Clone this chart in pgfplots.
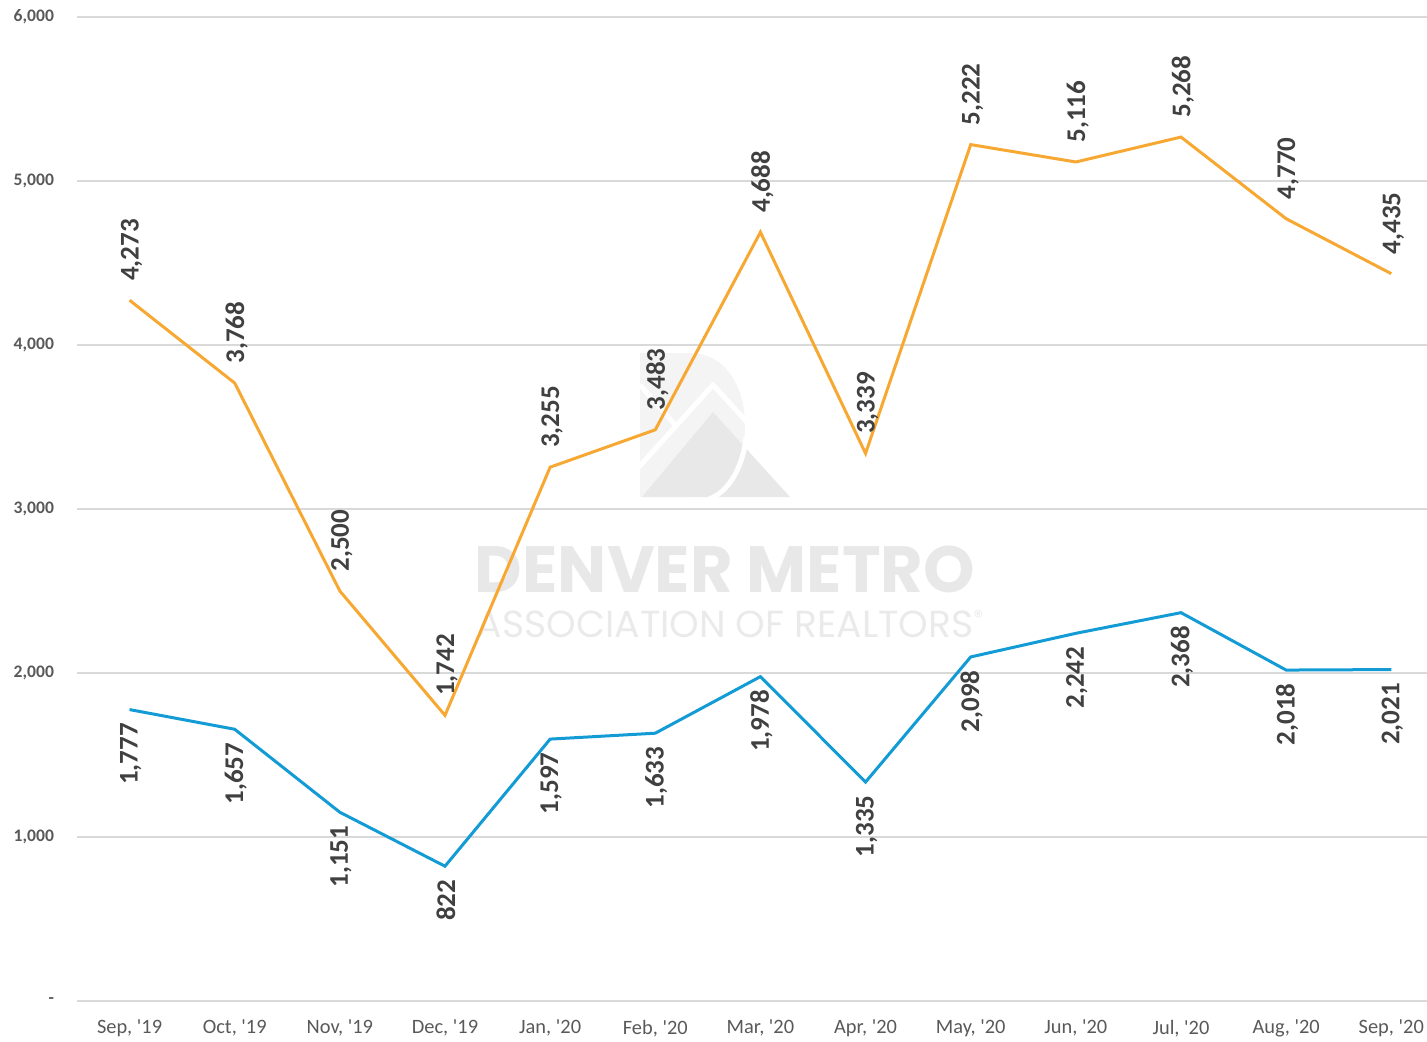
\documentclass[border=0pt]{standalone}
\usepackage{fontspec}
\setmainfont{Carlito}
\newfontfamily\wmfont{Poppins}
\usepackage{graphicx}
\usepackage{pgfplots}
\pgfplotsset{compat=1.18}
\definecolor{lineorange}{HTML}{F7A833}
\definecolor{lineblue}{HTML}{139BD5}
\definecolor{lbl}{HTML}{404040}
\definecolor{tick}{HTML}{595959}
\definecolor{gridc}{HTML}{D9D9D9}
\definecolor{wm}{HTML}{E8E8E8}
\definecolor{wmlight}{HTML}{F4F4F4}
\newcommand{\q}{\textquotesingle}
\begin{document}
\begin{tikzpicture}
% watermark (pixel -> pt: x=(px-77)/2, y=(1001-py)/2)
\begin{scope}[x=1pt,y=1pt]
\fill[wmlight] (281.5,252) -- (281.5,324) -- (306.5,324) .. controls (325,324) and (334,306) .. (334,288) .. controls (334,268) and (325,252) .. (306.5,252) -- cycle;
\fill[wm] (282.5,252) -- (318,294.5) -- (356.5,252) -- cycle;
\draw[white, line width=2.5pt] (280,266) -- (318,308) -- (340,284);
\draw[white, line width=2.5pt] (281.5,308) -- (300,287);
\draw[white, line width=2.5pt] (334.5,282) .. controls (333,266) and (325,254) .. (316,251);
\node[text=wm, inner sep=0] at (324,216) {\resizebox{250pt}{!}{\wmfont\bfseries DENVER METRO}};
\node[text=wm!90, inner sep=0] at (327,188.5) {\resizebox{254pt}{!}{\wmfont ASSOCIATION OF REALTORS\textsuperscript{\tiny®}}};
\end{scope}
\begin{axis}[
  scale only axis,
  width=675pt, height=492pt,
  xmin=-0.5, xmax=12.34,
  ymin=0, ymax=6000,
  axis line style={draw=none},
  axis x line*=bottom,
  axis y line*=left,
  xtick={0,...,12},
  xticklabels={{Sep, \q19},{Oct, \q19},{Nov, \q19},{Dec, \q19},{Jan, \q20},{Feb, \q20},{Mar, \q20},{Apr, \q20},{May, \q20},{Jun, \q20},{Jul, \q20},{Aug, \q20},{Sep, \q20}},
  ytick={0,1000,...,6000},
  yticklabels={-,{1,000},{2,000},{3,000},{4,000},{5,000},{6,000}},
  major tick length=0pt,
  ymajorgrids,
  grid style={gridc, line width=0.8pt},
  x tick label style={font=\fontsize{10.2}{12}\selectfont, text=tick, yshift=-6pt},
  y tick label style={font=\fontsize{8.8}{10}\selectfont\bfseries, text=tick, xshift=-8pt},
  clip=false,
]
\addplot[lineorange, line width=1.5pt, mark=none,
  nodes near coords, point meta=explicit symbolic,
  every node near coord/.style={rotate=90, anchor=west, inner sep=0pt, xshift=9pt, yshift=-1pt, text=lbl, font=\fontsize{13.5}{14}\selectfont\bfseries}]
  table[meta=l] {
x y l
0 4273 {4,273}
1 3768 {3,768}
2 2500 {2,500}
3 1742 {1,742}
4 3255 {3,255}
5 3483 {3,483}
6 4688 {4,688}
7 3339 {3,339}
8 5222 {5,222}
9 5116 {5,116}
10 5268 {5,268}
11 4770 {4,770}
12 4435 {4,435}
};
\addplot[lineblue, line width=1.5pt, mark=none,
  nodes near coords, point meta=explicit symbolic,
  every node near coord/.style={rotate=90, anchor=east, inner sep=0pt, xshift=-6pt, yshift=-0.5pt, text=lbl, font=\fontsize{13.5}{14}\selectfont\bfseries}]
  table[meta=l] {
x y l
0 1777 {1,777}
1 1657 {1,657}
2 1151 {1,151}
3 822 {822}
4 1597 {1,597}
5 1633 {1,633}
6 1978 {1,978}
7 1335 {1,335}
8 2098 {2,098}
9 2242 {2,242}
10 2368 {2,368}
11 2018 {2,018}
12 2021 {2,021}
};
\end{axis}
\pgfresetboundingbox
\path (-38.5pt,-20pt) rectangle (675pt,500.5pt);
\end{tikzpicture}
\end{document}
